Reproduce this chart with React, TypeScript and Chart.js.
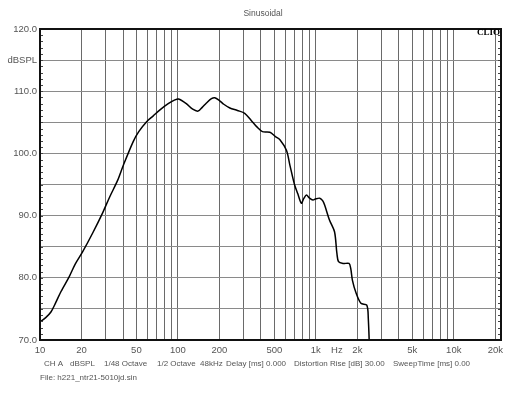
import React, { useEffect, useRef } from "react";
import { Chart, registerables } from "chart.js";

Chart.register(...registerables);

const freqs = [10, 11, 12, 13, 14.2, 16.3, 18, 20.4, 24.1, 28.4, 32, 36.6, 40.2, 47.4, 52, 59.3, 66, 74.1, 85, 95, 101, 115, 128, 140, 150, 161, 175, 185, 200, 215, 238, 270, 305, 340, 372, 410, 464, 510, 549, 612, 650, 700, 740, 785, 820, 855, 900, 952, 1000, 1068, 1120, 1158, 1255, 1366, 1420, 1460, 1574, 1740, 1790, 1842, 1960, 2122, 2340, 2400, 2470];
const levels = [72.9, 73.6, 74.5, 76.0, 77.8, 80.2, 82.2, 84.2, 87.2, 90.4, 93.0, 95.7, 98.1, 101.9, 103.5, 105.1, 106.0, 107.0, 108.0, 108.6, 108.75, 108.0, 107.1, 106.8, 107.4, 108.1, 108.8, 108.95, 108.5, 107.9, 107.3, 106.9, 106.45, 105.3, 104.3, 103.5, 103.4, 102.7, 102.2, 100.5, 98.0, 95.0, 93.5, 92.0, 92.8, 93.3, 92.8, 92.5, 92.7, 92.8, 92.4, 91.7, 89.3, 87.4, 84.0, 82.6, 82.3, 82.3, 81.5, 79.6, 77.5, 75.9, 75.6, 73.5, 66];

const xGridValues = [10, 20, 30, 40, 50, 60, 70, 80, 90, 100, 200, 300, 400, 500, 600, 700, 800, 900, 1000, 1420, 2000, 3000, 4000, 5000, 6000, 7000, 8000, 9000, 10000, 20000];
const xTickLabels: Record<number, string> = { 10: "10", 20: "20", 50: "50", 100: "100", 200: "200", 500: "500", 1000: "1k", 1420: "Hz", 2000: "2k", 5000: "5k", 10000: "10k", 20000: "20k" };
const yGridValues = [70, 75, 80, 85, 90, 95, 100, 105, 110, 115, 120];
const yTickLabels: Record<number, string> = { 120: "120.0", 115: "dBSPL", 110: "110.0", 100: "100.0", 90: "90.0", 80: "80.0", 70: "70.0" };

const titleText = "Sinusoidal";
const infoItems: [number, string][] = [
  [44, "CH A"], [70, "dBSPL"], [104, "1/48 Octave"], [157, "1/2 Octave"], [200, "48kHz"],
  [226, "Delay [ms] 0.000"], [294, "Distortion Rise [dB] 30.00"], [393, "SweepTime [ms] 0.00"],
];
const fileText = "File: h221_ntr21-5010jd.sin";

const FONT = "'Liberation Sans', Arial, sans-serif";
const TEXT_COLOR = "#555";

const decorPlugin = {
  id: "decor",
  afterDraw(chart: any) {
    const { ctx, chartArea: a, scales } = chart;
    ctx.save();
    ctx.strokeStyle = "#444";
    ctx.lineWidth = 1;
    for (let v = 70; v <= 120; v++) {
      const y = Math.round(scales.y.getPixelForValue(v)) + 0.5;
      ctx.beginPath();
      ctx.moveTo(a.left, y);
      ctx.lineTo(a.left + 3, y);
      ctx.moveTo(a.right, y);
      ctx.lineTo(a.right - 3, y);
      ctx.stroke();
    }
    ctx.strokeStyle = "#111";
    ctx.lineWidth = 2;
    ctx.strokeRect(a.left, a.top, a.right - a.left, a.bottom - a.top);
    ctx.fillStyle = TEXT_COLOR;
    ctx.font = `8.5px ${FONT}`;
    ctx.textAlign = "center";
    ctx.textBaseline = "middle";
    ctx.fillText(titleText, 263, 14);
    ctx.font = `8px ${FONT}`;
    ctx.textAlign = "left";
    infoItems.forEach(([x, t]) => ctx.fillText(t, x, 364));
    ctx.fillText(fileText, 40, 378);
    ctx.fillStyle = "#000";
    ctx.font = `bold 9px 'Liberation Serif', 'Times New Roman', serif`;
    ctx.textAlign = "right";
    ctx.fillText("CLIO", a.right - 1, 33);
    ctx.restore();
  },
};

export default function App() {
  const ref = useRef<HTMLCanvasElement>(null);
  useEffect(() => {
    if (!ref.current) return;
    const data = freqs.map((f, i) => ({ x: f, y: levels[i] }));
    const chart = new Chart(ref.current, {
      type: "line",
      data: {
        datasets: [
          {
            data,
            borderColor: "#000",
            borderWidth: 1.5,
            pointRadius: 0,
            tension: 0.3,
            fill: false,
          },
        ],
      },
      options: {
        animation: false,
        responsive: false,
        layout: { padding: { left: 0, right: 27, top: 29, bottom: 0 } },
        plugins: { legend: { display: false }, tooltip: { enabled: false }, title: { display: false } },
        scales: {
          x: {
            type: "logarithmic",
            min: 10,
            max: 22000,
            afterBuildTicks: (s: any) => {
              s.ticks = xGridValues.map((v) => ({ value: v }));
            },
            afterFit: (s: any) => {
              s.height = 56;
            },
            grid: {
              color: (c: any) => (c.tick && c.tick.value === 1420 ? "rgba(0,0,0,0)" : "#6a6a6a"),
              lineWidth: 1,
              drawTicks: false,
            },
            border: { display: false },
            ticks: {
              autoSkip: false,
              maxRotation: 0,
              padding: 5,
              color: TEXT_COLOR,
              font: { family: FONT, size: 9.5 },
              callback: (v: any) => xTickLabels[Number(v)] ?? "",
            },
          },
          y: {
            type: "linear",
            min: 70,
            max: 120,
            afterBuildTicks: (s: any) => {
              s.ticks = yGridValues.map((v) => ({ value: v }));
            },
            afterFit: (s: any) => {
              s.width = 40;
            },
            grid: { color: "#8a8a8a", lineWidth: 1, drawTicks: false },
            border: { display: false },
            ticks: {
              autoSkip: false,
              padding: 3,
              color: TEXT_COLOR,
              font: { family: FONT, size: 9.5 },
              callback: (v: any) => yTickLabels[Number(v)] ?? "",
            },
          },
        },
      },
      plugins: [decorPlugin],
    });
    return () => chart.destroy();
  }, []);
  return (
    <div style={{ position: "fixed", left: 0, top: 0, width: 528, height: 396, background: "#fff" }}>
      <canvas ref={ref} width={528} height={396} />
    </div>
  );
}
